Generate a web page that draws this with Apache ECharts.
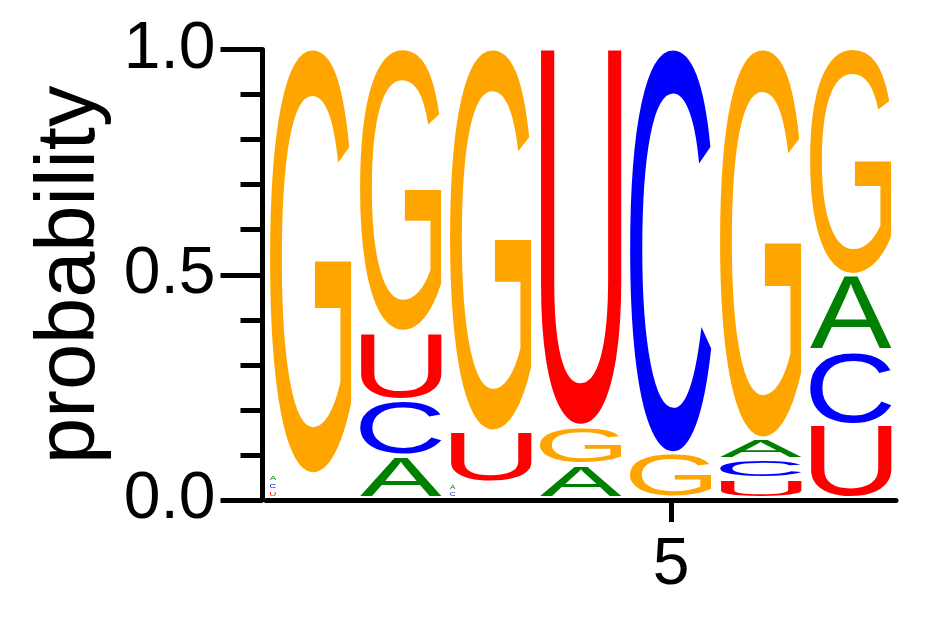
<!DOCTYPE html>
<html>
<head>
<meta charset="utf-8">
<script src="https://cdn.jsdelivr.net/npm/echarts@6/dist/echarts.min.js"></script>
<style>
  html, body { margin: 0; padding: 0; background: #fff; }
  #main { width: 942px; height: 617px; }
</style>
</head>
<body>
<div id="main"></div>
<script>
"use strict";

// positions along the sequence and the four RNA letters
const positions = ["1", "2", "3", "4", "5", "6", "7"];
const letters = ["A", "C", "G", "U"];
// probability of each letter at each position
const probA = [0.018, 0.094, 0.017, 0.075, 0, 0.045, 0.167];
const probC = [0.0175, 0.124, 0.0165, 0, 0.901, 0.044, 0.165];
const probG = [0.9475, 0.631, 0.8525, 0.085, 0.099, 0.868, 0.505];
const probU = [0.017, 0.151, 0.114, 0.84, 0, 0.043, 0.163];
const yTicks = [0, 0.5, 1];

const letterColors = { A: "#008000", C: "#0000ff", G: "#ffa500", U: "#ff0000" };
const FAMILY = "'Liberation Sans', Arial, Helvetica, sans-serif";
const FONT = "100px " + FAMILY;

// stack letters per column, smallest at the bottom
const probs = [probA, probC, probG, probU];
const stackData = [];
positions.forEach(function (p, i) {
  let col = letters
    .map(function (l, k) { return { k: k, v: probs[k][i] }; })
    .filter(function (d) { return d.v > 0; })
    .sort(function (a, b) { return a.v - b.v; });
  let base = 0;
  col.forEach(function (d) {
    stackData.push([i, base, base + d.v, d.k]);
    base += d.v;
  });
});

// ink box of every glyph, so it can be stretched to its cell
const ctx = document.createElement("canvas").getContext("2d");
ctx.font = FONT;
ctx.textBaseline = "middle";
ctx.textAlign = "left";
const glyph = {};
letters.forEach(function (l) {
  const m = ctx.measureText(l);
  glyph[l] = {
    left: -m.actualBoundingBoxLeft,
    right: m.actualBoundingBoxRight,
    top: -m.actualBoundingBoxAscent,
    bottom: m.actualBoundingBoxDescent,
  };
});

function renderLetter(params, api) {
  const i = api.value(0);
  const lo = api.coord([i, api.value(1)]);
  const hi = api.coord([i, api.value(2)]);
  const band = api.size([1, 0])[0];
  const l = letters[api.value(3)];
  const g = glyph[l];
  const top = hi[1];
  const bottom = lo[1] - 4;
  const h = bottom - top;
  if (h <= 0.5) return;
  const left = lo[0] - band * 0.455;
  let w = band * 0.91;
  if (h < 8) w = h * 1.5;
  const sx = w / (g.right - g.left);
  const sy = h / (g.bottom - g.top);
  return {
    type: "text",
    silent: true,
    x: left - g.left * sx,
    y: top - g.top * sy,
    scaleX: sx,
    scaleY: sy,
    style: {
      text: l,
      font: FONT,
      fill: letterColors[l],
      align: "left",
      verticalAlign: "middle",
    },
  };
}

const black = { color: "#000", width: 5 };

var chartDom = document.getElementById("main");
var myChart = echarts.init(chartDom);
var option = {
  animation: false,
  backgroundColor: "#fff",
  grid: { left: 266, right: 46, top: 49.5, bottom: 117 },
  xAxis: [
    {
      type: "category",
      data: positions,
      boundaryGap: true,
      axisLine: { show: true, lineStyle: black },
      axisTick: { show: true, alignWithLabel: true, length: 11, lineStyle: black },
      axisLabel: {
        interval: function (idx) { return idx === 4; },
        margin: 33,
        fontSize: 66,
        fontFamily: FAMILY,
        color: "#000",
      },
      splitLine: { show: false },
    },
    {
      type: "category",
      data: positions,
      position: "bottom",
      boundaryGap: true,
      axisLine: { show: false },
      axisTick: {
        show: true,
        alignWithLabel: true,
        interval: function (idx) { return idx === 4; },
        length: 22,
        lineStyle: black,
      },
      axisLabel: { show: false },
      splitLine: { show: false },
    },
  ],
  yAxis: {
    type: "value",
    min: yTicks[0],
    max: yTicks[yTicks.length - 1],
    interval: yTicks[1] - yTicks[0],
    offset: 3.5,
    axisLine: { show: true, lineStyle: black },
    axisTick: { show: true, length: 42, lineStyle: black },
    minorTick: { show: true, splitNumber: 5, length: 22, lineStyle: black },
    axisLabel: {
      margin: 47,
      fontSize: 66,
      fontFamily: FAMILY,
      color: "#000",
      formatter: function (v) { return v.toFixed(1); },
    },
    splitLine: { show: false },
    name: "probability",
    nameLocation: "middle",
    nameGap: 145,
    nameTextStyle: { fontSize: 83, fontFamily: FAMILY, color: "#000" },
  },
  series: [
    {
      type: "custom",
      xAxisIndex: 0,
      yAxisIndex: 0,
      clip: false,
      renderItem: renderLetter,
      encode: { x: 0, y: [1, 2] },
      data: stackData,
    },
  ],
};

option && myChart.setOption(option);
</script>
</body>
</html>
